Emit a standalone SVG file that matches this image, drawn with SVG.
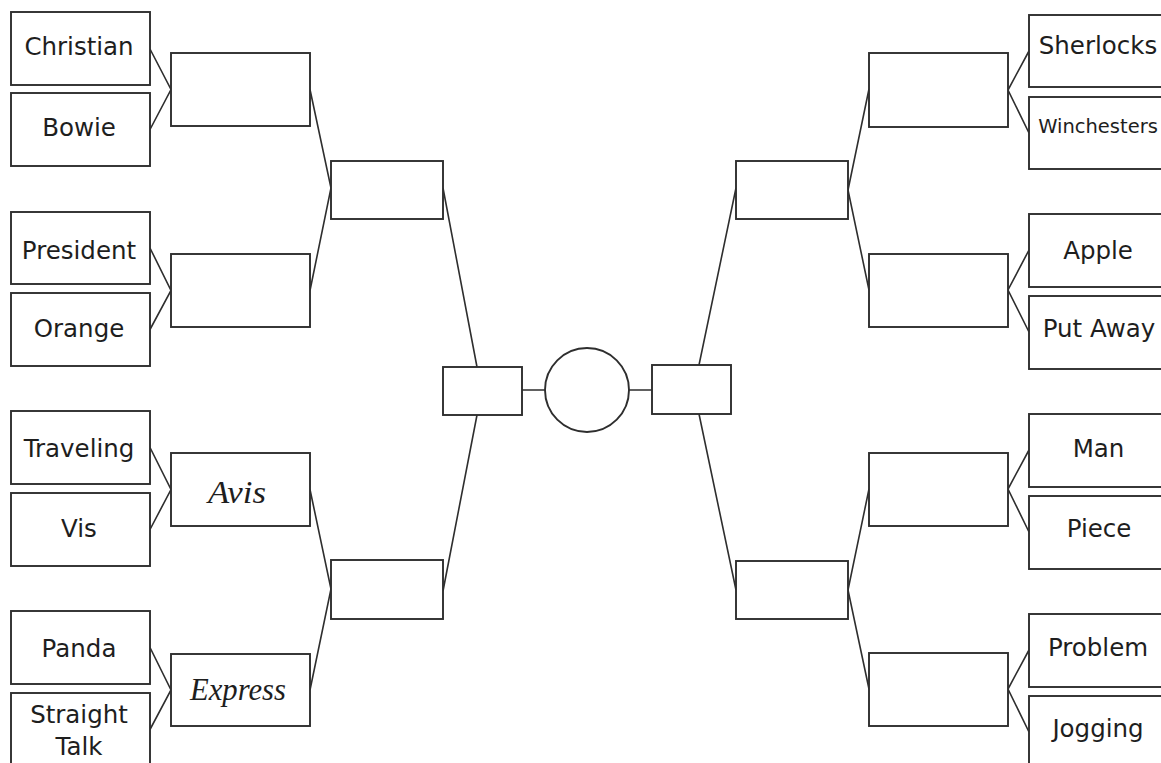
<svg xmlns="http://www.w3.org/2000/svg" width="1161" height="763" viewBox="0 0 1161 763">
<style>
.b{fill:#fff;stroke:#2e2e2e;stroke-width:1.9}
.c{fill:none;stroke:#2e2e2e;stroke-width:1.6}
.t{font-family:"DejaVu Sans","Liberation Sans",sans-serif;font-size:24.5px;fill:#1e1e1e;text-anchor:middle}
.s{font-size:19.5px}
.h{font-family:"Liberation Serif","DejaVu Serif",serif;font-style:italic;font-size:31px;fill:#1e1e1e;text-anchor:middle}
</style>
<rect width="1161" height="763" fill="#fff"/>
<g id="connectors" class="c">
<path d="M150,49L171,89.5L150,129.5M150,248L171,290.5L150,329.5M150,447.5L171,489.5L150,529.5M150,647.5L171,690L150,729.5"/>
<path d="M310,89.5L331,188L310,290.5M310,489.5L331,589L310,690"/>
<path d="M443,188L477,367M443,591L477,415"/>
<path d="M522,390H545M629,390H652"/>
<path d="M736,188L699,365M736,590L699,414"/>
<path d="M869,89L848,190L869,290M869,489L848,590L869,689"/>
<path d="M1029,51L1008,90L1029,133M1029,250L1008,290L1029,332M1029,450L1008,489L1029,532M1029,650L1008,689L1029,732"/>
</g>
<g id="n-christian"><rect class="b" x="11" y="12" width="139" height="73"/><text class="t" x="79" y="55">Christian</text></g>
<g id="n-bowie"><rect class="b" x="11" y="93" width="139" height="73"/><text class="t" x="79" y="136">Bowie</text></g>
<g id="n-president"><rect class="b" x="11" y="212" width="139" height="72"/><text class="t" x="79" y="259">President</text></g>
<g id="n-orange"><rect class="b" x="11" y="293" width="139" height="73"/><text class="t" x="79" y="337">Orange</text></g>
<g id="n-traveling"><rect class="b" x="11" y="411" width="139" height="73"/><text class="t" x="79" y="457">Traveling</text></g>
<g id="n-vis"><rect class="b" x="11" y="493" width="139" height="73"/><text class="t" x="79" y="537">Vis</text></g>
<g id="n-panda"><rect class="b" x="11" y="611" width="139" height="73"/><text class="t" x="79" y="657">Panda</text></g>
<g id="n-straighttalk"><rect class="b" x="11" y="693" width="139" height="80"/><text class="t" x="79" y="723">Straight</text><text class="t" x="79" y="755">Talk</text></g>
<g id="l-r2-1"><rect class="b" x="171" y="53" width="139" height="73"/></g>
<g id="l-r2-2"><rect class="b" x="171" y="254" width="139" height="73"/></g>
<g id="l-r2-3"><rect class="b" x="171" y="453" width="139" height="73"/><text class="h" x="237" y="503" textLength="58" lengthAdjust="spacingAndGlyphs">Avis</text></g>
<g id="l-r2-4"><rect class="b" x="171" y="654" width="139" height="72"/><text class="h" x="238" y="700" textLength="96" lengthAdjust="spacingAndGlyphs">Express</text></g>
<g id="l-r3-1"><rect class="b" x="331" y="161" width="112" height="58"/></g>
<g id="l-r3-2"><rect class="b" x="331" y="560" width="112" height="59"/></g>
<g id="l-sf"><rect class="b" x="443" y="367" width="79" height="48"/></g>
<g id="final"><circle class="b" cx="587" cy="390" r="42"/></g>
<g id="r-sf"><rect class="b" x="652" y="365" width="79" height="49"/></g>
<g id="r-r3-1"><rect class="b" x="736" y="161" width="112" height="58"/></g>
<g id="r-r3-2"><rect class="b" x="736" y="561" width="112" height="58"/></g>
<g id="r-r2-1"><rect class="b" x="869" y="53" width="139" height="74"/></g>
<g id="r-r2-2"><rect class="b" x="869" y="254" width="139" height="73"/></g>
<g id="r-r2-3"><rect class="b" x="869" y="453" width="139" height="73"/></g>
<g id="r-r2-4"><rect class="b" x="869" y="653" width="139" height="73"/></g>
<g id="n-sherlocks"><rect class="b" x="1029" y="15" width="140" height="72"/><text class="t" x="1098" y="54">Sherlocks</text></g>
<g id="n-winchesters"><rect class="b" x="1029" y="97" width="140" height="72"/><text class="t s" x="1098" y="133">Winchesters</text></g>
<g id="n-apple"><rect class="b" x="1029" y="214" width="140" height="73"/><text class="t" x="1098" y="259">Apple</text></g>
<g id="n-putaway"><rect class="b" x="1029" y="296" width="140" height="73"/><text class="t" x="1099" y="337">Put Away</text></g>
<g id="n-man"><rect class="b" x="1029" y="414" width="140" height="73"/><text class="t" x="1098.5" y="457">Man</text></g>
<g id="n-piece"><rect class="b" x="1029" y="496" width="140" height="73"/><text class="t" x="1099" y="537">Piece</text></g>
<g id="n-problem"><rect class="b" x="1029" y="614" width="140" height="73"/><text class="t" x="1098" y="656">Problem</text></g>
<g id="n-jogging"><rect class="b" x="1029" y="696" width="140" height="80"/><text class="t" x="1098" y="737">Jogging</text></g>
</svg>
